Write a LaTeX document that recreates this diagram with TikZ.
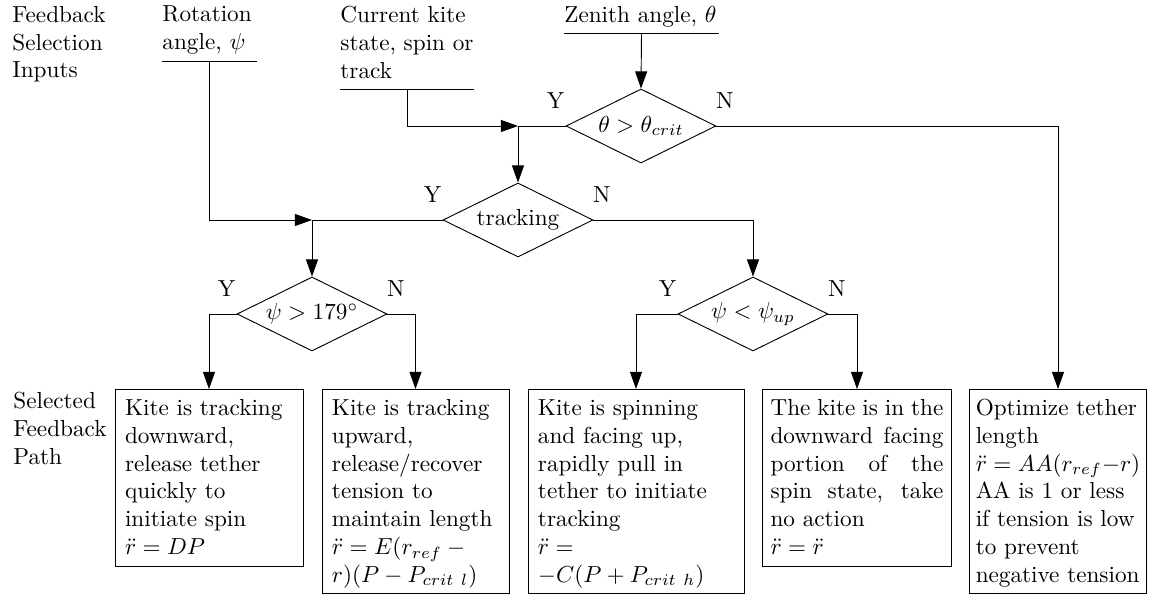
\documentclass[tikz,border=0pt]{standalone}
\usetikzlibrary{shapes.geometric,arrows.meta,calc}
\begin{document}
\begin{tikzpicture}[x=0.431pt,y=-0.431pt,
  dec/.style={diamond, draw, aspect=2.03, minimum width=64.6pt, minimum height=31.9pt, inner sep=0pt},
  outbox/.style={draw, anchor=north, align=left, inner xsep=4.3pt, inner ysep=1.3pt,
     execute at begin node={\rule{0pt}{9.9pt}}, execute at end node={\strut}},
  sidelab/.style={anchor=north west, align=left, inner xsep=0pt, inner ysep=1.3pt,
     execute at begin node={\rule{0pt}{9.9pt}}, execute at end node={\strut}},
  toplab/.style={anchor=north west, inner sep=0pt, align=left},
  inplab/.style={toplab, execute at end node={\rule[-4.8pt]{0pt}{4.8pt}}},
  arr/.style={-{Triangle[length=7.4pt,width=5.2pt]}},
]
\useasboundingbox (0,0) rectangle (1154,599);

% input labels
\node[toplab] (fsi) at (12,5.6) {Feedback\\Selection\\Inputs};
\node[inplab, text width=40.5pt] (rot) at (162,5.6) {Rotation\\angle, $\psi$};
\node[inplab, text width=57.5pt] (cur) at (340,5.6) {Current kite\\state, spin or\\track};
\node[inplab, text width=66.5pt] (zen) at (563.9,5.6) {\mbox{Zenith angle, $\theta$}};
\draw (rot.south west) -- (rot.south east);
\draw (cur.south west) -- (cur.south east);
\draw (zen.south west) -- (zen.south east);

% decisions
\node[dec] (d1) at (641,126) {$\theta > \theta_{crit}$};
\node[dec] (d2) at (518,220) {tracking};
\node[dec] (d3) at (312,314) {$\psi > 179^\circ$};
\node[dec] (d4) at (753,314) {$\psi < \psi_{up}$};
\coordinate (j1) at (518,126);
\coordinate (j2) at (312,220);

% Y / N labels
\foreach \d/\n in {d1/1,d2/2,d3/3,d4/4}{
  \node (y\n) at ($(\d.west)+(-10,-25)$) {Y};
  \node (n\n) at ($(\d.east)+(8.5,-25)$) {N};
}

% outcome boxes
\node[outbox, text width=72.4pt] (b1) at (209,389) {Kite is tracking\\downward,\\release tether\\quickly to\\initiate spin\\$\ddot{r} = DP$};
\node[outbox, text width=72pt] (b2) at (415.5,389) {Kite is tracking\\upward,\\release/recover\\tension to\\maintain length\\$\ddot{r} = E(r_{ref} - {}$\\$r)(P - P_{crit\ l})$};
\node[outbox, text width=84.5pt] (b3) at (636,389) {Kite is spinning\\and facing up,\\rapidly pull in\\tether to initiate\\tracking\\$\ddot{r} =$\\$-C(P + P_{crit\ h})$};
\node[outbox, text width=74.5pt, inner xsep=3.3pt, align=justify] (b4) at (857,389) {The kite is in the\linebreak downward facing\linebreak portion of the\linebreak spin state, take\linebreak no action\\$\ddot{r} = \ddot{r}$};
\node[outbox, text width=70.9pt, inner xsep=2.5pt] (b5) at (1058,389) {Optimize tether\\length\\$\ddot{r} = AA(r_{ref}{-}r)$\\AA is 1 or less\\if tension is low\\to prevent\\negative tension};
\node[sidelab] (sfp) at (13,389) {Selected\\Feedback\\Path};

% connectors
\draw[arr] (zen.south) -- (d1.north);
\draw[arr] (cur.south) |- (j1);
\draw (d1.west) -- (j1);
\draw[arr] (j1) -- (d2.north);
\draw[arr] (rot.south) |- (j2);
\draw (d2.west) -- (j2);
\draw[arr] (j2) -- (d3.north);
\draw[arr] (d2.east) -| (d4.north);
\draw[arr] (d1.east) -| (b5.north);
\draw[arr] (d3.west) -| (b1.north);
\draw[arr] (d3.east) -| (b2.north);
\draw[arr] (d4.west) -| (b3.north);
\draw[arr] (d4.east) -| (b4.north);
\end{tikzpicture}
\end{document}
